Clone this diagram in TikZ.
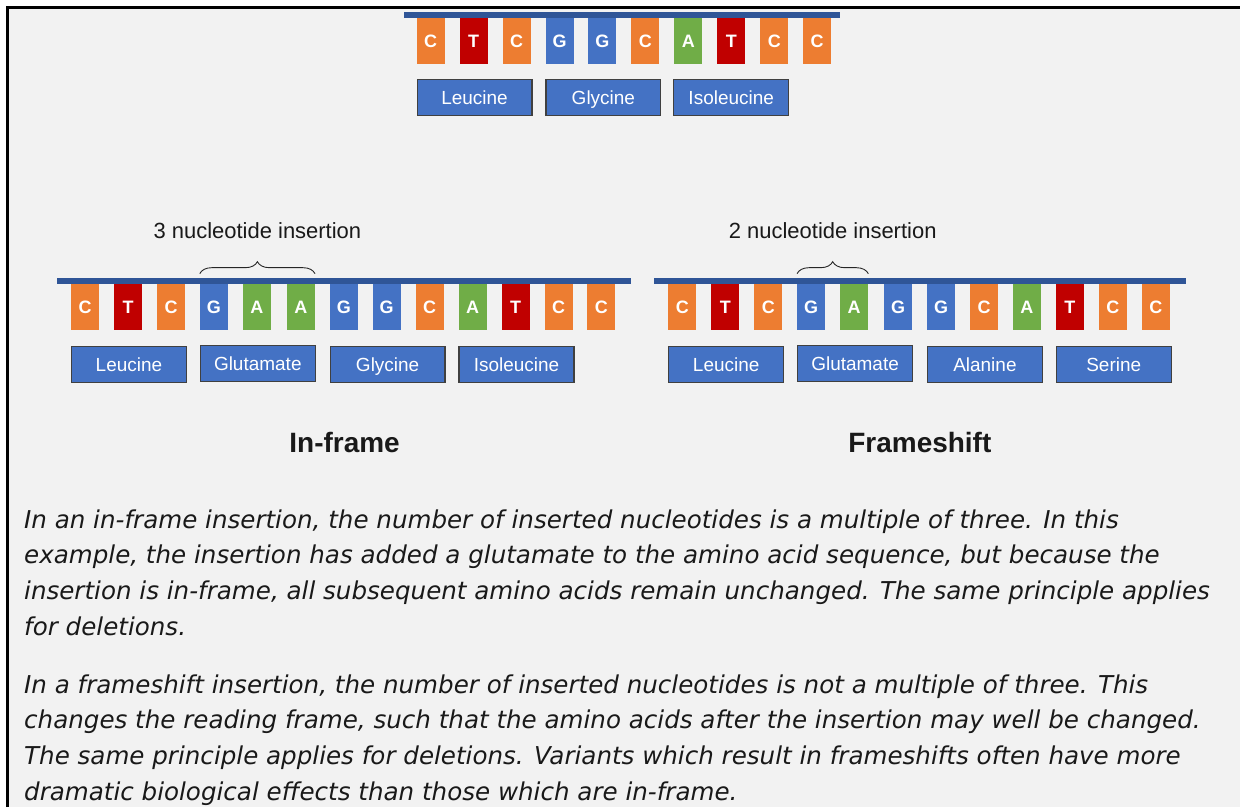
\documentclass[tikz,border=0pt]{standalone}
\usepackage{fontspec}
\setmainfont{Liberation Sans}
\newfontfamily\notefont{DejaVu Sans}
\usetikzlibrary{decorations.pathreplacing}

\definecolor{bggray}{HTML}{F2F2F2}
\definecolor{barblue}{HTML}{2F5597}
\definecolor{nucC}{HTML}{ED7D31}
\definecolor{nucT}{HTML}{C00000}
\definecolor{nucG}{HTML}{4472C4}
\definecolor{nucA}{HTML}{70AD47}
\definecolor{aminoblue}{HTML}{4472C4}

\tikzset{
  nuc/.style={anchor=north west, minimum width=28pt, minimum height=46pt, inner sep=0pt, text=white, font=\fontsize{18}{18}\selectfont\bfseries},
  cBox/.style={nuc, fill=nucC},
  tBox/.style={nuc, fill=nucT},
  gBox/.style={nuc, fill=nucG},
  aBox/.style={nuc, fill=nucA},
  amino/.style={anchor=north west, minimum width=115pt, minimum height=36pt, inner sep=0pt, fill=aminoblue, draw=black!75, line width=1.2pt, text=white, text height=16pt, text depth=2pt, font=\fontsize{19}{19}\selectfont},
  insbrace/.style={decorate, decoration={brace, amplitude=12pt}, line width=0.9pt, black!85},
  inslabel/.style={midway, above=35pt, inner sep=0pt, anchor=south, text=black!90, font=\fontsize{22}{22}\selectfont},
  heading/.style={text=black!90, font=\fontsize{28}{28}\selectfont\bfseries},
  note/.style={anchor=north west, align=left, inner sep=0pt, text=black!90, font=\notefont\itshape\fontsize{24.6}{35.7}\selectfont}
}

\begin{document}
\begin{tikzpicture}[x=1pt, y=-1pt]

% page and frame
\fill[white] (0,0) rectangle (1241,808);
\fill[bggray] (8,8) rectangle (1241,808);
\draw[line width=3pt] (8,808) -- (8,8) -- (1241,8);

% original sequence
\fill[barblue] (404,12) rectangle (841,18);
\node[cBox] (origN1) at (417,18) {C};
\node[tBox] (origN2) at (460,18) {T};
\node[cBox] (origN3) at (503,18) {C};
\node[gBox] (origN4) at (546,18) {G};
\node[gBox] (origN5) at (589,18) {G};
\node[cBox] (origN6) at (632,18) {C};
\node[aBox] (origN7) at (675,18) {A};
\node[tBox] (origN8) at (718,18) {T};
\node[cBox] (origN9) at (761,18) {C};
\node[cBox] (origN10) at (804,18) {C};

\node[amino] (origLeu) at (417,79) {Leucine};
\node[amino] (origGly) at (546,79) {Glycine};
\node[amino] (origIle) at (674,79) {Isoleucine};

% in-frame insertion
\fill[barblue] (57,278) rectangle (632,284);
\node[cBox] (inN1) at (71,284) {C};
\node[tBox] (inN2) at (114,284) {T};
\node[cBox] (inN3) at (157,284) {C};
\node[gBox] (inN4) at (200,284) {G};
\node[aBox] (inN5) at (243,284) {A};
\node[aBox] (inN6) at (287,284) {A};
\node[gBox] (inN7) at (330,284) {G};
\node[gBox] (inN8) at (373,284) {G};
\node[cBox] (inN9) at (416,284) {C};
\node[aBox] (inN10) at (459,284) {A};
\node[tBox] (inN11) at (502,284) {T};
\node[cBox] (inN12) at (545,284) {C};
\node[cBox] (inN13) at (588,284) {C};

\node[amino] (inLeu) at (71,346) {Leucine};
\node[amino] (inGlu) at (200,345) {Glutamate};
\node[amino] (inGly) at (330,346) {Glycine};
\node[amino] (inIle) at (459,346) {Isoleucine};

\draw[insbrace] ([yshift=10pt]inN4.north west) -- ([yshift=10pt]inN6.north east)
  node[inslabel] (inLabel) {3 nucleotide insertion};

% frameshift insertion
\fill[barblue] (655,278) rectangle (1187,284);
\node[cBox] (fsN1) at (669,284) {C};
\node[tBox] (fsN2) at (712,284) {T};
\node[cBox] (fsN3) at (755,284) {C};
\node[gBox] (fsN4) at (798,284) {G};
\node[aBox] (fsN5) at (841,284) {A};
\node[gBox] (fsN6) at (885,284) {G};
\node[gBox] (fsN7) at (928,284) {G};
\node[cBox] (fsN8) at (971,284) {C};
\node[aBox] (fsN9) at (1014,284) {A};
\node[tBox] (fsN10) at (1057,284) {T};
\node[cBox] (fsN11) at (1100,284) {C};
\node[cBox] (fsN12) at (1143,284) {C};

\node[amino] (fsLeu) at (669,346) {Leucine};
\node[amino] (fsGlu) at (798,345) {Glutamate};
\node[amino] (fsAla) at (928,346) {Alanine};
\node[amino] (fsSer) at (1057,346) {Serine};

\draw[insbrace] ([yshift=10pt]fsN4.north west) -- ([yshift=10pt]fsN5.north east)
  node[inslabel] (fsLabel) {2 nucleotide insertion};

% titles
\node[heading] (inframeTitle) at (345,443) {In-frame};
\node[heading] (frameshiftTitle) at (921,443) {Frameshift};

% explanations
\node[note] (inframeNote) at (24,510) {In an in-frame insertion, the number of inserted nucleotides is a multiple of three. In this\\
example, the insertion has added a glutamate to the amino acid sequence, but because the\\
insertion is in-frame, all subsequent amino acids remain unchanged. The same principle applies\\
for deletions.};
\node[note] (frameshiftNote) at (24,675) {In a frameshift insertion, the number of inserted nucleotides is not a multiple of three. This\\
changes the reading frame, such that the amino acids after the insertion may well be changed.\\
The same principle applies for deletions. Variants which result in frameshifts often have more\\
dramatic biological effects than those which are in-frame.};

\end{tikzpicture}
\end{document}
